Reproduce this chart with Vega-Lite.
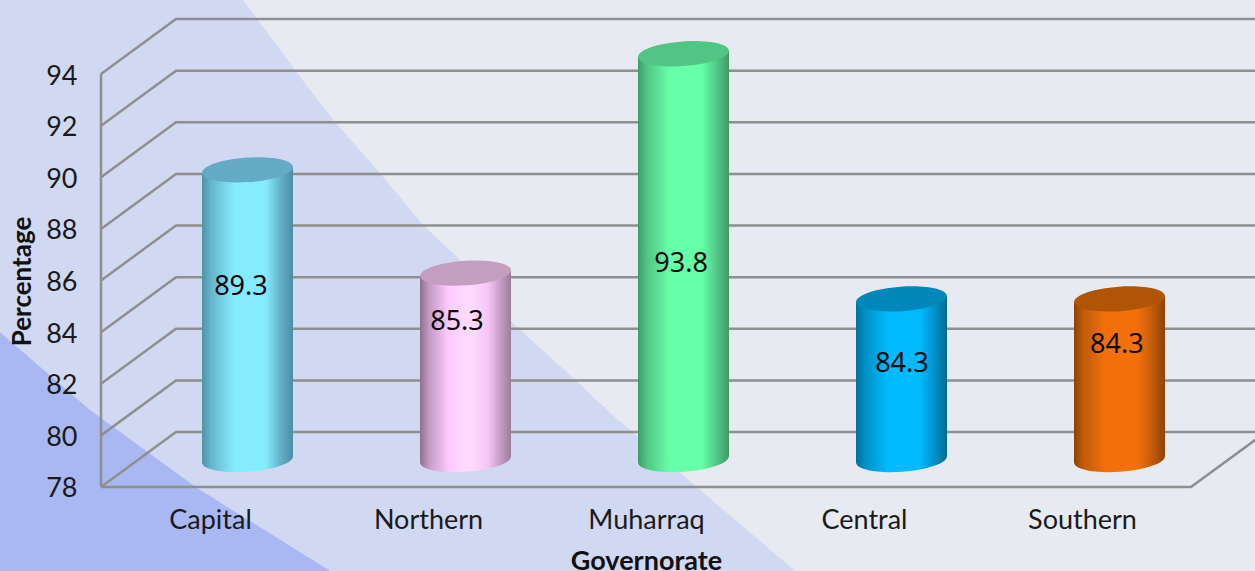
{"$schema":"https://vega.github.io/schema/vega-lite/v6.json","width":1255,"height":571,"padding":0,"autosize":"none","background":"#e8eaf2","config":{"view":{"stroke":null}},"datasets":{"bars":[{"gov":"Capital","x":0,"y":89.3},{"gov":"Northern","x":1,"y":85.3},{"gov":"Muharraq","x":2,"y":93.8},{"gov":"Central","x":3,"y":84.3},{"gov":"Southern","x":4,"y":84.3}],"bodies":[{"gov":"Capital","x":-0.2087,"y":89.177,"base":77.877},{"gov":"Capital","x":0.2087,"y":89.423,"base":78.123},{"gov":"Northern","x":0.7913,"y":85.177,"base":77.877},{"gov":"Northern","x":1.2087,"y":85.423,"base":78.123},{"gov":"Muharraq","x":1.7913,"y":93.677,"base":77.877},{"gov":"Muharraq","x":2.2087,"y":93.923,"base":78.123},{"gov":"Central","x":2.7913,"y":84.177,"base":77.877},{"gov":"Central","x":3.2087,"y":84.423,"base":78.123},{"gov":"Southern","x":3.7913,"y":84.177,"base":77.877},{"gov":"Southern","x":4.2087,"y":84.423,"base":78.123}],"labels":[{"gov":"Capital","x":0.142,"y":85.75,"text":"89.3"},{"gov":"Northern","x":1.133,"y":84.39,"text":"85.3"},{"gov":"Muharraq","x":2.161,"y":86.64,"text":"93.8"},{"gov":"Central","x":3.174,"y":82.76,"text":"84.3"},{"gov":"Southern","x":4.16,"y":83.5,"text":"84.3"}],"light":[{"x":-0.9633,"y":96.87},{"x":0.1514,"y":96.87},{"x":0.4587,"y":93.38},{"x":0.5734,"y":92.14},{"x":0.7798,"y":90.17},{"x":0.9771,"y":88.15},{"x":1.1468,"y":86.8},{"x":1.3899,"y":84.35},{"x":1.6651,"y":82.22},{"x":1.8716,"y":80.6},{"x":2.6835,"y":74.75}],"dark":[{"x":-0.9633,"y":84.0},{"x":-0.5505,"y":80.98},{"x":-0.0596,"y":77.96},{"x":0.55,"y":74.75}],"grid":[{"s":"g80","o":1,"x":-0.5,"y":80},{"s":"g80","o":2,"x":-0.156,"y":82.13},{"s":"g80","o":3,"x":4.844,"y":82.13},{"s":"g82","o":1,"x":-0.5,"y":82},{"s":"g82","o":2,"x":-0.156,"y":84.13},{"s":"g82","o":3,"x":4.844,"y":84.13},{"s":"g84","o":1,"x":-0.5,"y":84},{"s":"g84","o":2,"x":-0.156,"y":86.13},{"s":"g84","o":3,"x":4.844,"y":86.13},{"s":"g86","o":1,"x":-0.5,"y":86},{"s":"g86","o":2,"x":-0.156,"y":88.13},{"s":"g86","o":3,"x":4.844,"y":88.13},{"s":"g88","o":1,"x":-0.5,"y":88},{"s":"g88","o":2,"x":-0.156,"y":90.13},{"s":"g88","o":3,"x":4.844,"y":90.13},{"s":"g90","o":1,"x":-0.5,"y":90},{"s":"g90","o":2,"x":-0.156,"y":92.13},{"s":"g90","o":3,"x":4.844,"y":92.13},{"s":"g92","o":1,"x":-0.5,"y":92},{"s":"g92","o":2,"x":-0.156,"y":94.13},{"s":"g92","o":3,"x":4.844,"y":94.13},{"s":"g94","o":1,"x":-0.5,"y":94},{"s":"g94","o":2,"x":-0.156,"y":96.13},{"s":"g94","o":3,"x":4.844,"y":96.13},{"s":"g78","o":1,"x":-0.5,"y":78},{"s":"g78","o":2,"x":-0.156,"y":80.13},{"s":"g78","o":3,"x":4.844,"y":80.13},{"s":"floor","o":1,"x":-0.5,"y":78},{"s":"floor","o":2,"x":4.5,"y":78},{"s":"floor","o":3,"x":4.844,"y":80.13},{"s":"wall","o":1,"x":-0.5,"y":78},{"s":"wall","o":2,"x":-0.5,"y":94}]},"encoding":{"x":{"field":"x","type":"quantitative","scale":{"domain":[-0.9633,4.7936],"nice":false,"zero":false,"padding":0},"axis":{"values":[0,1,2,3,4],"labelExpr":"['Capital','Northern','Muharraq','Central','Southern'][datum.value]","offset":-51,"grid":false,"domain":false,"ticks":false,"labelPadding":0,"labelBaseline":"middle","labelFont":"Lato","labelFontSize":27,"labelColor":"#1a1a1a","zindex":1,"title":"Governorate","titleFont":"Lato","titleFontSize":27,"titleFontWeight":"bold","titleColor":"#111111","titleX":646,"titleY":41,"titleBaseline":"middle","labelOverlap":false,"labelFlush":false}},"y":{"field":"y","type":"quantitative","scale":{"domain":[74.745,96.87],"nice":false,"zero":false,"padding":0},"axis":{"values":[78,80,82,84,86,88,90,92,94],"offset":-77,"grid":false,"domain":false,"ticks":false,"labelPadding":0,"labelOffset":2,"labelFont":"Lato","labelFontSize":27,"labelColor":"#1a1a1a","zindex":1,"title":"Percentage","titleFont":"Lato","titleFontSize":26,"titleFontWeight":"bold","titleColor":"#111111","titleX":-55,"titleY":281,"titleBaseline":"middle","labelOverlap":false}}},"layer":[{"data":{"name":"light"},"mark":{"type":"area","fill":"#d1d8f2"},"encoding":{"y2":{"datum":74.745}}},{"data":{"name":"dark"},"mark":{"type":"area","fill":"#a9b8f2"},"encoding":{"y2":{"datum":74.745}}},{"data":{"name":"grid"},"mark":{"type":"line","stroke":"#8f8f8f","strokeWidth":2.5,"clip":true},"encoding":{"detail":{"field":"s"},"order":{"field":"o"}}},{"data":{"name":"bars"},"transform":[{"filter":"datum.gov=='Capital'"}],"mark":{"type":"point","filled":true,"opacity":1,"strokeWidth":0,"size":8281,"xOffset":37.5,"yOffset":-27.5,"shape":"M 0.9976 -0.07 C 1.008 0.0787 0.5699 0.2306 0.0189 0.2693 C -0.5321 0.308 -0.9872 0.2187 -0.9976 0.07 C -1.008 -0.0787 -0.5699 -0.2306 -0.0189 -0.2693 C 0.5321 -0.308 0.9872 -0.2187 0.9976 -0.07 Z","fill":{"gradient":"linear","x1":0,"x2":1,"y1":0,"y2":0,"stops":[{"offset":0,"color":"#4d93a8"},{"offset":0.1,"color":"#66b5cc"},{"offset":0.35,"color":"#85ebff"},{"offset":0.7,"color":"#85ebff"},{"offset":0.87,"color":"#62b0c6"},{"offset":1,"color":"#4a8ea3"}]}},"encoding":{"y":{"datum":78}}},{"data":{"name":"bars"},"transform":[{"filter":"datum.gov=='Northern'"}],"mark":{"type":"point","filled":true,"opacity":1,"strokeWidth":0,"size":8281,"xOffset":37.5,"yOffset":-27.5,"shape":"M 0.9976 -0.07 C 1.008 0.0787 0.5699 0.2306 0.0189 0.2693 C -0.5321 0.308 -0.9872 0.2187 -0.9976 0.07 C -1.008 -0.0787 -0.5699 -0.2306 -0.0189 -0.2693 C 0.5321 -0.308 0.9872 -0.2187 0.9976 -0.07 Z","fill":{"gradient":"linear","x1":0,"x2":1,"y1":0,"y2":0,"stops":[{"offset":0,"color":"#8f6f8f"},{"offset":0.1,"color":"#c49ac4"},{"offset":0.32,"color":"#ffccff"},{"offset":0.55,"color":"#ffdcff"},{"offset":0.75,"color":"#f5c5f5"},{"offset":0.88,"color":"#c89ec8"},{"offset":1,"color":"#9c7c9c"}]}},"encoding":{"y":{"datum":78}}},{"data":{"name":"bars"},"transform":[{"filter":"datum.gov=='Muharraq'"}],"mark":{"type":"point","filled":true,"opacity":1,"strokeWidth":0,"size":8281,"xOffset":37.5,"yOffset":-27.5,"shape":"M 0.9976 -0.07 C 1.008 0.0787 0.5699 0.2306 0.0189 0.2693 C -0.5321 0.308 -0.9872 0.2187 -0.9976 0.07 C -1.008 -0.0787 -0.5699 -0.2306 -0.0189 -0.2693 C 0.5321 -0.308 0.9872 -0.2187 0.9976 -0.07 Z","fill":{"gradient":"linear","x1":0,"x2":1,"y1":0,"y2":0,"stops":[{"offset":0,"color":"#3f9a68"},{"offset":0.1,"color":"#52c585"},{"offset":0.35,"color":"#66ffaa"},{"offset":0.7,"color":"#66ffaa"},{"offset":0.87,"color":"#52c585"},{"offset":1,"color":"#3f9a68"}]}},"encoding":{"y":{"datum":78}}},{"data":{"name":"bars"},"transform":[{"filter":"datum.gov=='Central'"}],"mark":{"type":"point","filled":true,"opacity":1,"strokeWidth":0,"size":8281,"xOffset":37.5,"yOffset":-27.5,"shape":"M 0.9976 -0.07 C 1.008 0.0787 0.5699 0.2306 0.0189 0.2693 C -0.5321 0.308 -0.9872 0.2187 -0.9976 0.07 C -1.008 -0.0787 -0.5699 -0.2306 -0.0189 -0.2693 C 0.5321 -0.308 0.9872 -0.2187 0.9976 -0.07 Z","fill":{"gradient":"linear","x1":0,"x2":1,"y1":0,"y2":0,"stops":[{"offset":0,"color":"#00709a"},{"offset":0.1,"color":"#0090c5"},{"offset":0.35,"color":"#00bbff"},{"offset":0.7,"color":"#00bbff"},{"offset":0.87,"color":"#0090c5"},{"offset":1,"color":"#006a90"}]}},"encoding":{"y":{"datum":78}}},{"data":{"name":"bars"},"transform":[{"filter":"datum.gov=='Southern'"}],"mark":{"type":"point","filled":true,"opacity":1,"strokeWidth":0,"size":8281,"xOffset":37.5,"yOffset":-27.5,"shape":"M 0.9976 -0.07 C 1.008 0.0787 0.5699 0.2306 0.0189 0.2693 C -0.5321 0.308 -0.9872 0.2187 -0.9976 0.07 C -1.008 -0.0787 -0.5699 -0.2306 -0.0189 -0.2693 C 0.5321 -0.308 0.9872 -0.2187 0.9976 -0.07 Z","fill":{"gradient":"linear","x1":0,"x2":1,"y1":0,"y2":0,"stops":[{"offset":0,"color":"#8f4206"},{"offset":0.1,"color":"#c05a08"},{"offset":0.35,"color":"#f4700b"},{"offset":0.7,"color":"#f4700b"},{"offset":0.87,"color":"#c05a08"},{"offset":1,"color":"#8f4206"}]}},"encoding":{"y":{"datum":78}}},{"data":{"name":"bodies"},"transform":[{"filter":"datum.gov=='Capital'"}],"mark":{"type":"area","orient":"vertical","xOffset":37.5,"yOffset":-25.5,"y2Offset":-27.5,"fill":{"gradient":"linear","x1":0,"x2":1,"y1":0,"y2":0,"stops":[{"offset":0,"color":"#4d93a8"},{"offset":0.1,"color":"#66b5cc"},{"offset":0.35,"color":"#85ebff"},{"offset":0.7,"color":"#85ebff"},{"offset":0.87,"color":"#62b0c6"},{"offset":1,"color":"#4a8ea3"}]}},"encoding":{"y2":{"field":"base"}}},{"data":{"name":"bodies"},"transform":[{"filter":"datum.gov=='Northern'"}],"mark":{"type":"area","orient":"vertical","xOffset":37.5,"yOffset":-25.5,"y2Offset":-27.5,"fill":{"gradient":"linear","x1":0,"x2":1,"y1":0,"y2":0,"stops":[{"offset":0,"color":"#8f6f8f"},{"offset":0.1,"color":"#c49ac4"},{"offset":0.32,"color":"#ffccff"},{"offset":0.55,"color":"#ffdcff"},{"offset":0.75,"color":"#f5c5f5"},{"offset":0.88,"color":"#c89ec8"},{"offset":1,"color":"#9c7c9c"}]}},"encoding":{"y2":{"field":"base"}}},{"data":{"name":"bodies"},"transform":[{"filter":"datum.gov=='Muharraq'"}],"mark":{"type":"area","orient":"vertical","xOffset":37.5,"yOffset":-25.5,"y2Offset":-27.5,"fill":{"gradient":"linear","x1":0,"x2":1,"y1":0,"y2":0,"stops":[{"offset":0,"color":"#3f9a68"},{"offset":0.1,"color":"#52c585"},{"offset":0.35,"color":"#66ffaa"},{"offset":0.7,"color":"#66ffaa"},{"offset":0.87,"color":"#52c585"},{"offset":1,"color":"#3f9a68"}]}},"encoding":{"y2":{"field":"base"}}},{"data":{"name":"bodies"},"transform":[{"filter":"datum.gov=='Central'"}],"mark":{"type":"area","orient":"vertical","xOffset":37.5,"yOffset":-25.5,"y2Offset":-27.5,"fill":{"gradient":"linear","x1":0,"x2":1,"y1":0,"y2":0,"stops":[{"offset":0,"color":"#00709a"},{"offset":0.1,"color":"#0090c5"},{"offset":0.35,"color":"#00bbff"},{"offset":0.7,"color":"#00bbff"},{"offset":0.87,"color":"#0090c5"},{"offset":1,"color":"#006a90"}]}},"encoding":{"y2":{"field":"base"}}},{"data":{"name":"bodies"},"transform":[{"filter":"datum.gov=='Southern'"}],"mark":{"type":"area","orient":"vertical","xOffset":37.5,"yOffset":-25.5,"y2Offset":-27.5,"fill":{"gradient":"linear","x1":0,"x2":1,"y1":0,"y2":0,"stops":[{"offset":0,"color":"#8f4206"},{"offset":0.1,"color":"#c05a08"},{"offset":0.35,"color":"#f4700b"},{"offset":0.7,"color":"#f4700b"},{"offset":0.87,"color":"#c05a08"},{"offset":1,"color":"#8f4206"}]}},"encoding":{"y2":{"field":"base"}}},{"data":{"name":"bars"},"mark":{"type":"point","filled":true,"opacity":1,"strokeWidth":0,"size":8281,"xOffset":37.5,"yOffset":-25.5,"shape":"M 0.9976 -0.07 C 1.008 0.0787 0.5699 0.2306 0.0189 0.2693 C -0.5321 0.308 -0.9872 0.2187 -0.9976 0.07 C -1.008 -0.0787 -0.5699 -0.2306 -0.0189 -0.2693 C 0.5321 -0.308 0.9872 -0.2187 0.9976 -0.07 Z"},"encoding":{"color":{"field":"gov","type":"nominal","legend":null,"scale":{"domain":["Capital","Northern","Muharraq","Central","Southern"],"range":["#64abc5","#c49ebf","#52c585","#0088bb","#b05505"]}}}},{"data":{"name":"labels"},"mark":{"type":"text","font":"Noto Sans","fontSize":27,"color":"#0a0a0a","align":"center","baseline":"middle"},"encoding":{"text":{"field":"text"}}}]}
